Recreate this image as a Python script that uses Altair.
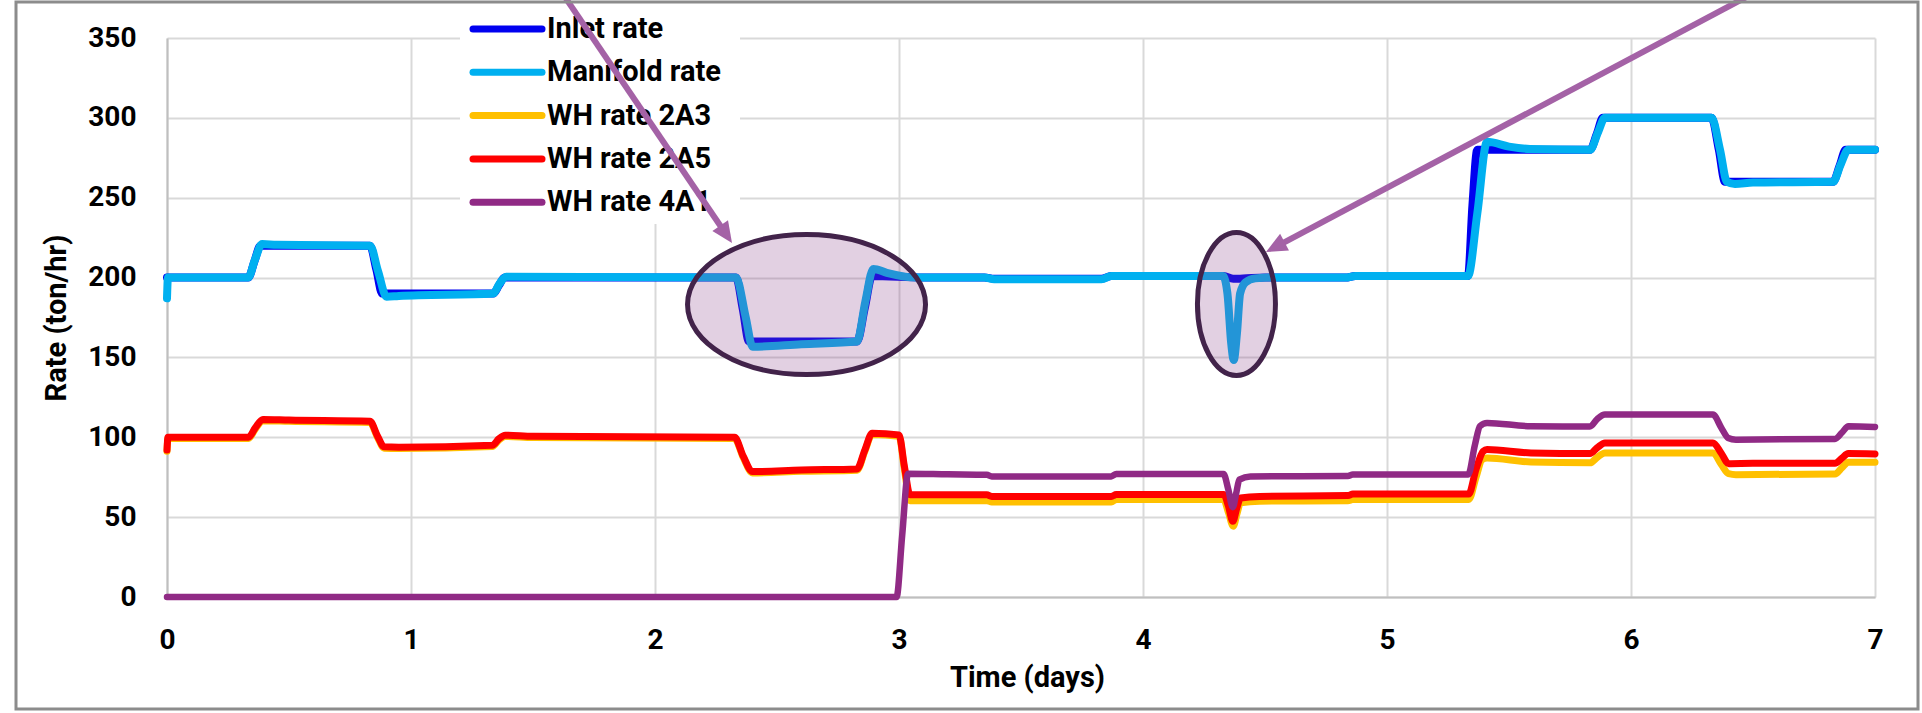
import altair as alt
import pandas as pd

# Series names and their line colours / widths (drawn in this order)
SERIES = ["Inlet rate", "Manifold rate", "WH rate 2A3", "WH rate 2A5", "WH rate 4A1"]
COLORS = ["#0000F0", "#00B0F0", "#FFC000", "#FF0000", "#902A85"]
STROKES = [8, 8, 7, 7, 6.5]

# Time (days) and rate (ton/hr) samples for each series
inlet_day = [0, 0.333, 0.358, 0.383, 0.832, 0.858, 0.882, 1.337, 1.36, 1.383, 2.332, 2.36, 2.385,
             2.828, 2.86, 2.89, 3.1, 3.35, 3.39, 3.83, 3.87, 4.33, 4.37, 4.41, 4.5, 4.83, 4.87,
             5.332, 5.35, 5.37, 5.832, 5.86, 5.885, 6.33, 6.36, 6.385, 6.828, 6.855, 6.88, 7.0]
inlet_rate = [200, 200, 210, 220, 220, 205, 190, 190, 195, 200, 200, 180, 160,
              160, 181, 201, 200, 200, 199.3, 199.3, 201, 201, 199.2, 199.4, 200, 200, 201,
              201, 245, 280, 280, 290, 300, 300, 280, 260, 260, 270, 280, 280]

manifold_day = [0, 0.004, 0.333, 0.36, 0.39, 0.45, 0.832, 0.865, 0.9, 0.95, 1.337, 1.362, 1.39,
                2.332, 2.372, 2.40, 2.6, 2.828, 2.862, 2.895, 2.95, 3.07, 3.35, 3.39, 3.83, 3.87,
                4.328, 4.346, 4.362, 4.372, 4.385, 4.398, 4.42, 4.46, 4.52, 4.83, 4.87,
                5.332, 5.37, 5.41, 5.5, 5.586, 5.832, 5.865, 5.893, 6.33, 6.365, 6.393, 6.426,
                6.5, 6.828, 6.86, 6.89, 7.0]
manifold_rate = [187, 200, 200, 211, 221, 220.5, 220, 204, 188, 188.5, 190, 196, 200.5,
                 200, 175, 156.7, 158.3, 160, 185, 205.4, 203, 200, 200, 199, 199, 201,
                 201, 190, 158, 148.4, 165, 190, 197, 199.5, 200, 200, 201,
                 201, 240, 285, 282, 280.5, 280, 291, 300, 300, 280, 260, 258.6,
                 259.5, 260, 271, 280, 280]

wh2a3_day = [0, 0.004, 0.334, 0.362, 0.393, 0.5, 0.832, 0.862, 0.89, 0.95, 1.333, 1.36, 1.386, 1.5,
             2.326, 2.362, 2.399, 2.6, 2.828, 2.86, 2.89, 3.0, 3.022, 3.045, 3.36, 3.38, 3.87, 3.89,
             4.331, 4.35, 4.37, 4.385, 4.40, 4.478, 4.84, 4.86, 5.335, 5.365, 5.39, 5.41, 5.59,
             5.832, 5.862, 5.893, 6.336, 6.37, 6.40, 6.43, 6.836, 6.865, 6.89, 7.0]
wh2a3_rate = [91.2, 99.2, 99.2, 105.2, 110.4, 110, 109.2, 100.2, 93.2, 93, 94.2, 98.2, 100.5, 99.8,
              99.2, 87.2, 77.7, 78.7, 79.4, 91.2, 101.7, 100.7, 80, 60.3, 60.3, 59.5, 59.5, 61,
              61, 53, 44.3, 52, 59, 60, 60.3, 61, 61, 75, 86, 87, 84.5,
              84, 87.5, 90.2, 90.2, 83, 77.2, 76.6, 77, 81, 84.3, 84.3]

wh2a5_day = [0, 0.004, 0.334, 0.362, 0.393, 0.5, 0.832, 0.862, 0.89, 0.95, 1.333, 1.36, 1.386, 1.5,
             2.326, 2.362, 2.399, 2.6, 2.828, 2.86, 2.89, 3.0, 3.022, 3.045, 3.36, 3.38, 3.87, 3.89,
             4.331, 4.35, 4.368, 4.385, 4.40, 4.478, 4.84, 4.86, 5.335, 5.365, 5.394, 5.41, 5.59,
             5.832, 5.862, 5.893, 6.336, 6.37, 6.40, 6.5, 6.836, 6.865, 6.89, 7.0]
wh2a5_rate = [92, 100, 100, 106, 111.2, 110.8, 110, 101, 94, 93.8, 95, 99, 101.3, 100.6,
              100, 88, 78.5, 79.5, 80.2, 92, 102.5, 101.5, 82, 64, 64, 63, 63, 64.1,
              64.1, 57, 47.4, 56, 62, 63, 63.5, 64.5, 64.5, 80, 91.2, 92.3, 90.2,
              89.8, 93.5, 96.5, 96.5, 90, 83.5, 83.7, 83.7, 87, 89.8, 89.6]

wh4a1_day = [0, 2.99, 3.013, 3.037, 3.2, 3.36, 3.38, 3.87, 3.89, 4.33, 4.35, 4.368, 4.382, 4.395, 4.44,
             4.84, 4.86, 5.333, 5.36, 5.381, 5.41, 5.59, 5.832, 5.862, 5.893, 6.336, 6.37, 6.398,
             6.43, 6.836, 6.865, 6.891, 7.0]
wh4a1_rate = [0, 0, 38.5, 77.2, 76.8, 76.5, 75.5, 75.5, 77, 77, 67, 56.2, 65, 73.5, 75.5,
              75.8, 76.7, 76.7, 95, 107, 109, 106.9, 106.8, 111.5, 114.2, 114.2, 106, 99.6,
              98.5, 99, 103, 106.9, 106.5]

SERIES_DATA = [
    (inlet_day, inlet_rate),
    (manifold_day, manifold_rate),
    (wh2a3_day, wh2a3_rate),
    (wh2a5_day, wh2a5_rate),
    (wh4a1_day, wh4a1_rate),
]

# Highlighted events (ellipse centres) and the arrows pointing at them
event_day = [2.621, 4.383]
event_rate = [183.1, 183.5]
arrow_from_day = [1.5975, 6.566]
arrow_from_rate = [383.2, 383.2]
arrow_to_day = [2.274, 4.569]
arrow_to_rate = [231.0, 221.3]
arrow_tip_day = [2.3156, 4.504]
arrow_tip_rate = [221.65, 216.0]
arrow_angle = [145.8, 242.1]

X_SCALE = alt.Scale(domain=[0, 7], nice=False, zero=False)
Y_SCALE = alt.Scale(domain=[0, 350], nice=False)

FONT = "Roboto"
GRID = "#D9D9D9"
DOMAIN = "#BFBFBF"
ARROW = "#A462A6"

x_axis = alt.Axis(
    values=list(range(8)), format="d", title="Time (days)",
    grid=True, gridColor=GRID, gridWidth=2, domainColor=DOMAIN, domainWidth=2,
    ticks=False, tickSize=0, labelFlush=False,
    labelFont=FONT, labelFontSize=28, labelFontWeight="bold", labelColor="black", labelPadding=29,
    titleFont=FONT, titleFontSize=29, titleFontWeight="bold", titleColor="black",
    titleX=860, titleY=89, titleAlign="center", titleBaseline="alphabetic",
)
y_axis = alt.Axis(
    values=list(range(0, 351, 50)), format="d", title="Rate (ton/hr)",
    grid=True, gridColor=GRID, gridWidth=2, domainColor=DOMAIN, domainWidth=2,
    ticks=False, tickSize=0, labelFlush=False,
    labelFont=FONT, labelFontSize=28, labelFontWeight="bold", labelColor="black", labelPadding=31,
    titleFont=FONT, titleFontSize=29, titleFontWeight="bold", titleColor="black",
    titleX=-102, titleY=279.5, titleAngle=270, titleAlign="center", titleBaseline="alphabetic",
)


def xenc(field):
    return alt.X(field, scale=X_SCALE, axis=x_axis)


def yenc(field):
    return alt.Y(field, scale=Y_SCALE, axis=y_axis)


layers = []
for name, color, width, (days, rates) in zip(SERIES, COLORS, STROKES, SERIES_DATA):
    df = pd.DataFrame({"series": name, "day": days, "rate": rates})
    layers.append(
        alt.Chart(df).mark_line(interpolate="monotone", color=color, strokeWidth=width,
                                strokeCap="round", strokeJoin="round")
        .encode(x=xenc("day:Q"), y=yenc("rate:Q"))
    )

# Ellipses around the two upsets (custom symbol paths, unit half-axis = sqrt(size)/2)
K = 0.5523


def ellipse_path(a, b):
    return (f"M {-a} 0 C {-a} {-K*b} {-K*a} {-b} 0 {-b} "
            f"C {K*a} {-b} {a} {-K*b} {a} 0 "
            f"C {a} {K*b} {K*a} {b} 0 {b} "
            f"C {-K*a} {b} {-a} {K*b} {-a} 0 Z")


ellipse_shapes = [(ellipse_path(1, 70 / 119), (2 * 119) ** 2),
                  (ellipse_path(39 / 71.5, 1), (2 * 71.5) ** 2)]
for (d, r), (shape, size) in zip(zip(event_day, event_rate), ellipse_shapes):
    edf = pd.DataFrame({"day": [d], "rate": [r]})
    layers.append(
        alt.Chart(edf).mark_point(shape=shape, size=size, filled=True, fill="#8B438B",
                                  fillOpacity=0.25, stroke="#42234A", strokeWidth=5,
                                  strokeOpacity=1, opacity=1)
        .encode(x=xenc("day:Q"), y=yenc("rate:Q"))
    )

# Legend panel
one = pd.DataFrame({"k": [0]})
legend_df = pd.DataFrame({"series": SERIES, "idx": list(range(len(SERIES)))})
legend_color = alt.Color("series:N", scale=alt.Scale(domain=SERIES, range=COLORS), legend=None)

layers.append(
    alt.Chart(one).mark_rect(color="white")
    .encode(x=alt.value(293), x2=alt.value(573), y=alt.value(-35), y2=alt.value(186))
)
layers.append(
    alt.Chart(legend_df).transform_calculate(ly="-9 + 43.3 * datum.idx")
    .mark_rule(strokeWidth=7, strokeCap="round")
    .encode(x=alt.value(306), x2=alt.value(375),
            y=alt.Y("ly:Q", scale=None, axis=None), color=legend_color)
)
layers.append(
    alt.Chart(legend_df).transform_calculate(ly="-9 + 43.3 * datum.idx")
    .mark_text(align="left", baseline="middle", font=FONT, fontSize=29, fontWeight="bold",
               color="black")
    .encode(x=alt.value(380), y=alt.Y("ly:Q", scale=None, axis=None), text="series:N")
)

# Annotation arrows
arrow_df = pd.DataFrame({
    "x0": arrow_from_day, "y0": arrow_from_rate,
    "x1": arrow_to_day, "y1": arrow_to_rate,
    "tx": arrow_tip_day, "ty": arrow_tip_rate, "ang": arrow_angle,
})
layers.append(
    alt.Chart(arrow_df).mark_rule(color=ARROW, strokeWidth=6)
    .encode(x=xenc("x0:Q"), y=yenc("y0:Q"), x2="x1:Q", y2="y1:Q")
)
layers.append(
    alt.Chart(arrow_df).mark_point(shape="M 0 0 L -0.45 1 L 0.45 1 Z", size=1764, filled=True,
                                   color=ARROW, opacity=1)
    .encode(x=xenc("tx:Q"), y=yenc("ty:Q"), angle=alt.Angle("ang:Q", scale=None))
)

# Outer chart-area border
layers.append(
    alt.Chart(one).mark_rect(fillOpacity=0, stroke="#8C8C8C", strokeWidth=3)
    .encode(x=alt.value(-151), x2=alt.value(1751), y=alt.value(-36), y2=alt.value(671))
)

chart = (
    alt.layer(*layers)
    .properties(width=1708, height=559,
                autosize=alt.AutoSizeParams(type="none"),
                padding={"left": 167, "top": 38, "right": 47, "bottom": 116},
                background="white")
    .configure_view(stroke=None)
)

chart.save("out.html", embed_options={"renderer": "svg", "actions": False})
